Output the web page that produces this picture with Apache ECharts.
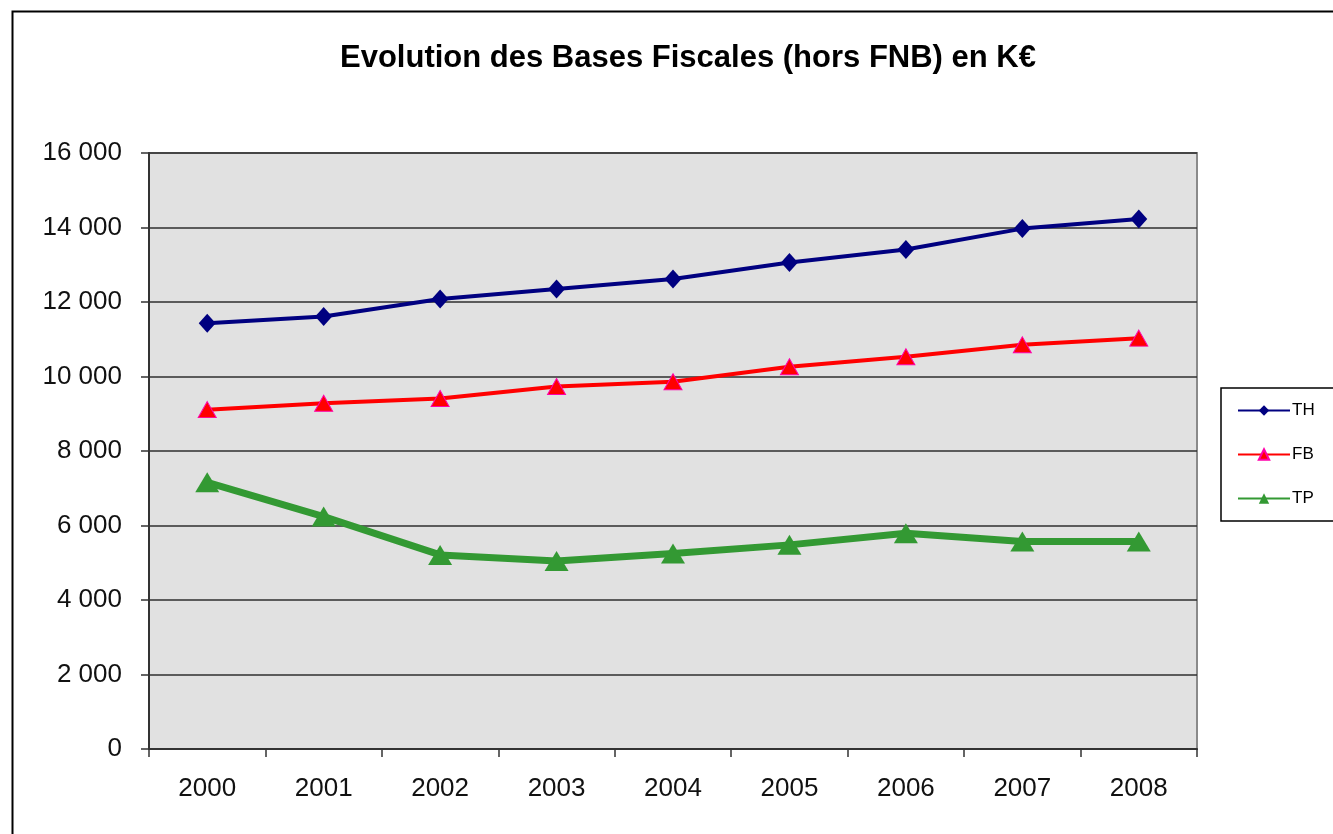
<!DOCTYPE html>
<html>
<head>
<meta charset="utf-8">
<script src="https://cdn.jsdelivr.net/npm/echarts@6/dist/echarts.min.js"></script>
<style>
  html, body { margin: 0; padding: 0; background: #fff; }
  #chart { width: 1333px; height: 834px; }
</style>
</head>
<body>
<div id="chart"></div>
<script>
// Years on the horizontal axis
const years = ['2000', '2001', '2002', '2003', '2004', '2005', '2006', '2007', '2008'];

// Tax bases in K€
const thValues = [11430, 11610, 12080, 12350, 12620, 13060, 13410, 13970, 14230];
const fbValues = [9110, 9280, 9410, 9730, 9860, 10260, 10530, 10850, 11030];
const tpValues = [7160, 6240, 5210, 5050, 5250, 5480, 5790, 5570, 5570];

const titleText = 'Evolution des Bases Fiscales (hors FNB) en K€';
const FONT = '"Liberation Sans", Arial, sans-serif';

// "16 000" style thousands separator
function fmtThousands(v) {
  return String(v).replace(/\B(?=(\d{3})+(?!\d))/g, ' ');
}

const chart = echarts.init(document.getElementById('chart'), null, { renderer: 'canvas' });

chart.setOption({
  backgroundColor: '#ffffff',
  animation: false,
  title: {
    text: titleText,
    left: 335,
    top: 38,
    textStyle: { fontFamily: FONT, fontSize: 31, fontWeight: 'bold', color: '#000' }
  },
  graphic: [{
    type: 'rect',
    left: 10, top: 9,
    shape: { width: 1400, height: 900 },
    style: { fill: 'none', stroke: '#000', lineWidth: 2 },
    z: -10, silent: true
  }],
  legend: {
    orient: 'vertical',
    left: 1221,
    top: 388,
    padding: [14, 20, 14, 16],
    itemGap: 27,
    itemWidth: 52,
    itemHeight: 13,
    borderColor: '#000',
    borderWidth: 1.5,
    backgroundColor: '#fff',
    lineStyle: { width: 2 },
    textStyle: { fontFamily: FONT, fontSize: 17, color: '#000', padding: [0, 0, 0, -3] },
    data: ['TH', 'FB', 'TP']
  },
  grid: {
    left: 149, right: 136, top: 153, bottom: 85,
    show: true,
    backgroundColor: '#e1e1e1',
    borderColor: '#8a8a8a',
    borderWidth: 2
  },
  xAxis: {
    type: 'category',
    data: years,
    boundaryGap: true,
    axisLine: { lineStyle: { color: '#333', width: 2 } },
    axisTick: { show: true, length: 8, inside: false, lineStyle: { color: '#333', width: 1.5 } },
    axisLabel: { fontFamily: FONT, fontSize: 26, color: '#111', margin: 27 },
    splitLine: { show: false }
  },
  yAxis: {
    type: 'value',
    min: 0, max: 16000, interval: 2000,
    axisLine: { show: true, lineStyle: { color: '#333', width: 2 } },
    axisTick: { show: true, length: 8, lineStyle: { color: '#333', width: 1.5 } },
    axisLabel: { fontFamily: FONT, fontSize: 26, color: '#111', margin: 27, formatter: fmtThousands },
    splitLine: { show: true, lineStyle: { color: '#2e2e2e', width: 1.5 } }
  },
  series: [
    {
      name: 'TH', type: 'line', data: thValues,
      symbol: 'diamond', symbolSize: [17, 19],
      lineStyle: { color: '#000080', width: 4 },
      itemStyle: { color: '#000080' }
    },
    {
      name: 'FB', type: 'line', data: fbValues,
      symbol: 'triangle', symbolSize: [18, 16],
      lineStyle: { color: '#ff0000', width: 4 },
      itemStyle: { color: '#ff0000', borderColor: '#ff00aa', borderWidth: 1 }
    },
    {
      name: 'TP', type: 'line', data: tpValues,
      symbol: 'triangle', symbolSize: [24, 20],
      lineStyle: { color: '#339933', width: 7 },
      itemStyle: { color: '#339933' }
    }
  ]
});
</script>
</body>
</html>
